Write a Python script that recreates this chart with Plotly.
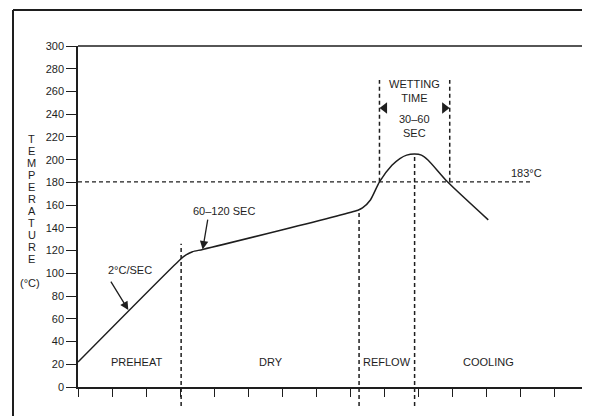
import plotly.graph_objects as go

# ---- data ----
time_s = [0, 90, 95, 101, 110, 247, 251, 258, 266, 277, 284, 290, 297, 303, 309, 326, 362]
temp_c = [22, 112, 116, 119, 121, 155.5, 157.5, 164.5, 180.5, 195, 201, 204, 205, 204, 199.5, 180.5, 147]

y_ticks = list(range(0, 301, 20))
x_ticks = list(range(0, 451, 30))

phase_bounds = [91, 248, 297]          # preheat/dry, dry/reflow, peak
phase_bound_top = [126, 156, 205]      # where each boundary meets the curve
wetting_bounds = [266, 328]
wetting_top = 270
liquidus_level = 180.5
liquidus_end = 399
liquidus_label = "183°C"

phase_names = ["PREHEAT", "DRY", "REFLOW", "COOLING"]
phase_label_x = [52, 170, 273, 362]
phase_label_y = 22

ink = "#1e1e1e"
font = "Liberation Sans, Arial, sans-serif"

# page offset (browser body margin) compensation
OFF = 8
W, H = 590 - OFF, 416 - OFF
# plot area in reference pixels
L, R, T, B = 78, 588, 46, 387
def px_x(p):
    return (p - L) / (R - L)
def px_y(p):
    return (B - p) / (B - T)

fig = go.Figure()
fig.add_trace(go.Scatter(x=time_s, y=temp_c, mode="lines",
                         line=dict(color=ink, width=1.5, shape="spline", smoothing=0.6),
                         hoverinfo="skip", showlegend=False))

# wetting time arrowheads
arrow_y = 245.5
fig.add_trace(go.Scatter(x=[wetting_bounds[0] + 4.5, wetting_bounds[1] - 4.5], y=[arrow_y, arrow_y],
                         mode="markers",
                         marker=dict(symbol=["triangle-left", "triangle-right"], size=10, color=ink),
                         hoverinfo="skip", showlegend=False, cliponaxis=False))

shapes = []
dash = "4px,3px"
bottom_ext = px_y(406)
for bx, top in zip(phase_bounds, phase_bound_top):
    shapes.append(dict(type="line", xref="x", yref="paper", x0=bx, x1=bx,
                       y0=bottom_ext, y1=top / 300,
                       line=dict(color=ink, width=1.5, dash=dash)))
for wx in wetting_bounds:
    shapes.append(dict(type="line", xref="x", yref="y", x0=wx, x1=wx,
                       y0=liquidus_level, y1=wetting_top,
                       line=dict(color=ink, width=1.5, dash=dash)))
shapes.append(dict(type="line", xref="x", yref="y", x0=0, x1=liquidus_end,
                   y0=liquidus_level, y1=liquidus_level,
                   line=dict(color=ink, width=1.2, dash=dash)))
# plot frame: top line and right line
shapes.append(dict(type="line", xref="paper", yref="paper", x0=0, x1=px_x(590), y0=1, y1=1,
                   line=dict(color=ink, width=1.5)))
shapes.append(dict(type="line", xref="paper", yref="paper", x0=px_x(588.5), x1=px_x(588.5),
                   y0=px_y(90), y1=0, line=dict(color="#555", width=1)))
# outer frame
shapes.append(dict(type="line", xref="paper", yref="paper", x0=px_x(13), x1=px_x(590),
                   y0=px_y(10), y1=px_y(10), line=dict(color=ink, width=2)))
shapes.append(dict(type="line", xref="paper", yref="paper", x0=px_x(13), x1=px_x(13),
                   y0=px_y(10), y1=px_y(416), line=dict(color=ink, width=2)))

annotations = []
def txt(**kw):
    d = dict(showarrow=False, xanchor="center", yanchor="middle",
             font=dict(size=11, color=ink, family=font))
    d.update(kw)
    annotations.append(d)

for name, lx in zip(phase_names, phase_label_x):
    txt(x=lx, y=phase_label_y, text=name)
txt(x=396, y=188, text=liquidus_label)
txt(x=297, y=260.5, text="WETTING<br>TIME")
txt(x=297, y=229.5, text="30–60<br>SEC")
txt(x=45.6, y=103, text="2°C/SEC")
txt(x=128.8, y=155, text="60–120 SEC")

annotations.append(dict(x=44.4, y=67.7, ax=28.2, ay=94, axref="x", ayref="y",
                        text="", showarrow=True, arrowhead=2, arrowsize=1.3,
                        arrowwidth=1.3, arrowcolor=ink))
annotations.append(dict(x=110, y=121, ax=114.7, ay=148.6, axref="x", ayref="y",
                        text="", showarrow=True, arrowhead=2, arrowsize=1.3,
                        arrowwidth=1.3, arrowcolor=ink))

# vertical stacked axis title
title_word = "TEMPERATURE"
for i, ch in enumerate(title_word):
    txt(xref="paper", yref="paper", x=px_x(31.5), y=px_y(139 + 12 * i), text=ch)
txt(xref="paper", yref="paper", x=px_x(30), y=px_y(283), text="(°C)")

fig.update_layout(
    width=W, height=H,
    margin=dict(l=L - OFF, r=W - (R - OFF), t=T - OFF, b=H - (B - OFF), pad=0, autoexpand=False),
    paper_bgcolor="white", plot_bgcolor="white",
    shapes=shapes, annotations=annotations,
    xaxis=dict(range=[0, 450], tickvals=x_ticks, showticklabels=False,
               ticks="outside", ticklen=8, tickwidth=1.3, tickcolor=ink,
               showline=True, linecolor=ink, linewidth=1.5,
               showgrid=False, zeroline=False, fixedrange=True),
    yaxis=dict(range=[0, 300], tickvals=y_ticks,
               ticks="outside", ticklen=10, tickwidth=1.3, tickcolor=ink,
               tickfont=dict(size=11, color=ink, family=font),
               showline=True, linecolor=ink, linewidth=1.5,
               showgrid=False, zeroline=False, fixedrange=True),
    showlegend=False,
)

fig.write_html("out.html")
